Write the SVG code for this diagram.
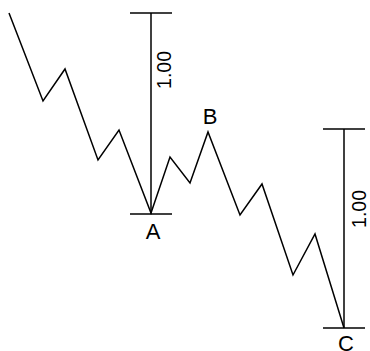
<svg xmlns="http://www.w3.org/2000/svg" width="370" height="351" viewBox="0 0 370 351">
<style>
.ln{fill:none;stroke:#000;stroke-width:1.5;stroke-linejoin:miter}
.t{font-family:"Liberation Sans",Arial,sans-serif;font-size:19.5px;fill:#000}
.l{font-family:"Liberation Sans",Arial,sans-serif;font-size:22px;fill:#000}
</style>
<rect width="370" height="351" fill="#fff"/>
<g id="connectors">
<polyline class="ln" points="9,13 43,101 65,69 98,160 119,130 151,213 170,157 190,183 208,132 240,215 262,184 293,275 315,234 344,328"/>
</g>
<g id="measure1">
<line class="ln" x1="151" y1="13" x2="151" y2="214"/>
<line class="ln" x1="130" y1="13" x2="172" y2="13"/>
<line class="ln" x1="130" y1="214" x2="172" y2="214"/>
<text class="t" transform="translate(171,70) rotate(-90)" text-anchor="middle">1.00</text>
</g>
<g id="measure2">
<line class="ln" x1="344" y1="129" x2="344" y2="328"/>
<line class="ln" x1="323" y1="129" x2="365" y2="129"/>
<line class="ln" x1="323" y1="328" x2="365" y2="328"/>
<text class="t" transform="translate(366,209) rotate(-90)" text-anchor="middle">1.00</text>
</g>
<g id="A"><text class="l" x="153" y="239" text-anchor="middle">A</text></g>
<g id="B"><text class="l" x="210" y="124" text-anchor="middle">B</text></g>
<g id="C"><text class="l" x="346" y="351" text-anchor="middle">C</text></g>
</svg>
